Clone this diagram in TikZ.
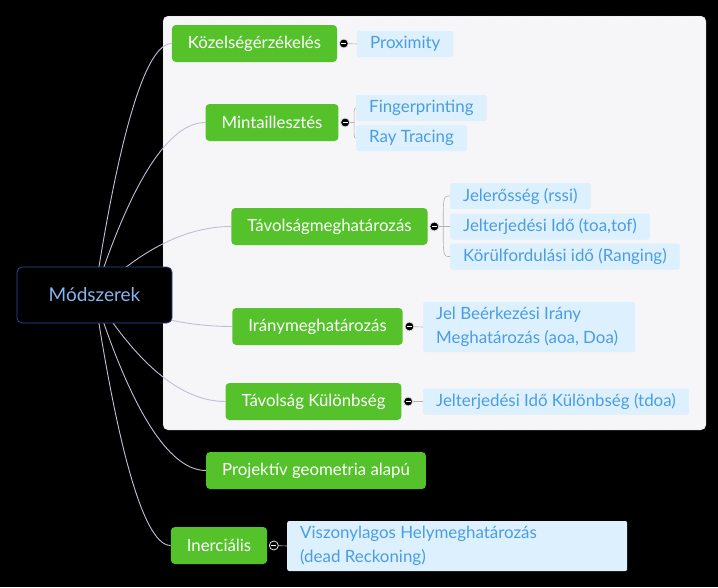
\documentclass[tikz,border=0pt]{standalone}
\usepackage{fontspec}
\setmainfont{Lato}
\usetikzlibrary{calc}
\definecolor{topicgreen}{HTML}{55C22B}
\definecolor{leafblue}{HTML}{DDF0FD}
\definecolor{leaftext}{HTML}{4A9DE3}
\definecolor{panelgray}{HTML}{F6F5F7}
\definecolor{rootblue}{HTML}{2C4C9A}
\definecolor{roottext}{HTML}{86B4EE}
\definecolor{linegray}{HTML}{C2BED6}
\pgfdeclarelayer{back}
\pgfdeclarelayer{lines}
\pgfsetlayers{back,lines,main}
\tikzset{
  topic/.style={fill=topicgreen, text=white, rounded corners=4pt, minimum height=37pt,
    inner xsep=16pt, font=\fontsize{16.8}{19}\selectfont},
  leaf/.style={fill=leafblue, text=leaftext, rounded corners=2pt, minimum height=26pt,
    inner xsep=13pt, inner ysep=2pt, anchor=west, align=flush left, font=\fontsize{16.9}{24}\selectfont},
  fold/.style={circle, fill=black, draw=gray!25, line width=0.8pt, minimum size=9pt, inner sep=0pt,
    path picture={\draw[white, line width=0.9pt] ([xshift=-2.5pt]path picture bounding box.center)
      -- ([xshift=2.5pt]path picture bounding box.center);}},
  branch/.style={draw=linegray, line width=0.9pt},
  sub/.style={draw=gray!60, line width=0.6pt},
}
\begin{document}
\begin{tikzpicture}[x=1pt,y=1pt]
  \begin{pgfonlayer}{back}
    \fill[black] (0,0) rectangle (718,-587);
    \draw[gray, densely dotted, fill=panelgray, rounded corners=5pt] (163,-16) rectangle (706,-430);
  \end{pgfonlayer}

  \node[fill=black, draw=rootblue, line width=0.8pt, rounded corners=5pt, minimum width=155pt,
    minimum height=56pt, text=roottext, font=\fontsize{19}{22}\selectfont] (mod) at (94.5,-295) {Módszerek};

  \node[topic] (kozel) at (254.5,-43.5) {Közelségérzékelés};
  \node[topic] (minta) at (272,-122.5) {Mintaillesztés};
  \node[topic] (tavm) at (329.5,-226.5) {Távolságmeghatározás};
  \node[topic] (irany) at (317.5,-326.5) {Iránymeghatározás};
  \node[topic] (tavk) at (313.5,-401.5) {Távolság Különbség};
  \node[topic] (proj) at (316,-470.5) {Projektív geometria alapú};
  \node[topic] (iner) at (219,-545.5) {Inerciális};

  \node[leaf] (prox) at (357,-44) {Proximity};
  \node[leaf] (finger) at (356,-108) {Fingerprinting};
  \node[leaf] (ray) at (356,-138) {Ray Tracing};
  \node[leaf] (rssi) at (450,-196) {Jelerősség (rssi)};
  \node[leaf] (toa) at (450,-226.5) {Jelterjedési Idő (toa,tof)};
  \node[leaf] (rang) at (450,-256.5) {Körülfordulási idő (Ranging)};
  \node[leaf, minimum height=50pt, text width=186pt] (aoa) at (423,-327) {Jel Beérkezési Irány\\Meghatározás (aoa, Doa)};
  \node[leaf] (tdoa) at (423,-401.5) {Jelterjedési Idő Különbség (tdoa)};
  \node[leaf, minimum height=50pt, text width=314pt] (dead) at (287,-546) {Viszonylagos Helymeghatározás\\(dead Reckoning)};

  \foreach \t in {kozel,minta,tavm,irany,tavk,iner}
    \node[fold] (f-\t) at ([xshift=6.5pt]\t.east) {};

  \begin{pgfonlayer}{lines}
    \foreach \t in {kozel,minta,tavm,irany,tavk,proj,iner}
      \draw[branch] let \p0=(mod.center), \p3=(\t.west) in
        (\p0) .. controls ({\x0+0.25*(\x3-\x0)},{\y0+0.5*(\y3-\y0)}) and ({\x0+0.6*(\x3-\x0)},\y3) .. (\p3);
    \foreach \t/\l in {kozel/prox,irany/aoa,tavk/tdoa,iner/dead}
      \draw[sub] (f-\t) -- (\l.west);
    \foreach \t/\l in {minta/finger,minta/ray,tavm/rssi,tavm/toa,tavm/rang}
      \draw[sub] (f-\t.east) -- ++(4pt,0) coordinate (m) .. controls (m |- \l.west) .. (\l.west);
  \end{pgfonlayer}
\end{tikzpicture}
\end{document}
